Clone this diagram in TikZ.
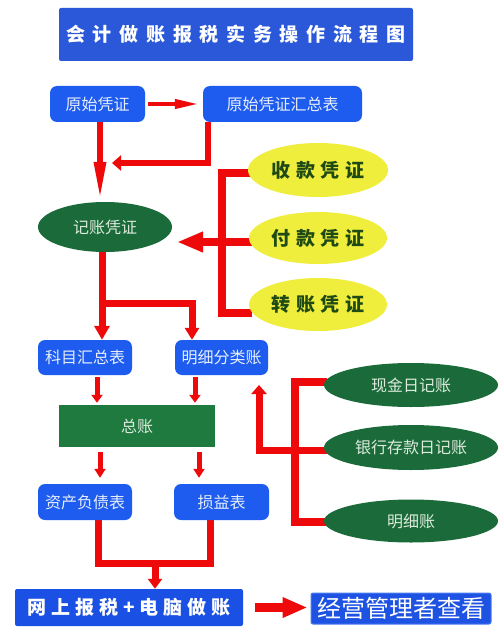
\documentclass[tikz,border=0pt]{standalone}
\usepackage{fontspec}
\newfontfamily\cjk{Noto Sans CJK SC}
\usetikzlibrary{shapes.geometric,arrows.meta}
\pgfdeclarelayer{back}\pgfdeclarelayer{bg}\pgfsetlayers{back,bg,main}
\definecolor{redc}{HTML}{EE0A0A}
\definecolor{boxblue}{HTML}{1E5CF0}
\definecolor{titleblue}{HTML}{2A58D8}
\definecolor{wsblue}{HTML}{1B50E4}
\definecolor{jyblue}{HTML}{1D52E2}
\definecolor{jyborder}{HTML}{4A7CF0}
\definecolor{dgreen}{HTML}{1B6B3A}
\definecolor{zgreen}{HTML}{1F7A40}
\definecolor{yel}{HTML}{F0EE3C}
\definecolor{ytext}{HTML}{1F4A14}
\definecolor{btext}{HTML}{E6EEFA}
\definecolor{gtext}{HTML}{DCEBDC}
\makeatletter
\newcommand\lsp[2]{\def\lsp@amt{#1}\lsp@loop#2\relax}
\def\lsp@loop#1{\ifx\relax#1\unskip\else#1\hspace{\lsp@amt}\expandafter\lsp@loop\fi}
\makeatother
\tikzset{
  bbox/.style={rectangle, rounded corners=7pt, fill=boxblue, text=btext, inner sep=0pt,
    font=\cjk\fontsize{16}{16}\selectfont},
  gell/.style={ellipse, fill=dgreen, text=gtext, inner sep=0pt,
    font=\cjk\fontsize{16}{16}\selectfont},
  yell/.style={ellipse, fill=yel, text=ytext, inner sep=0pt,
    font=\cjk\bfseries\fontsize{19}{19}\selectfont},
  redbar/.style={draw=redc, line join=miter, line cap=butt},
}
\begin{document}
\begin{tikzpicture}[x=1pt,y=-1pt]
\useasboundingbox (0,0) rectangle (503,639);
\begin{pgfonlayer}{back}
\fill[white] (0,0) rectangle (503,639);
\end{pgfonlayer}
% title
\node[rectangle, rounded corners=2pt, fill=titleblue, text=white, minimum width=354pt, minimum height=53pt,
  font=\cjk\bfseries\fontsize{19}{19}\selectfont] (title) at (236,34.5) {\lsp{7.7pt}{会计做账报税实务操作流程图}};
% boxes
\node[bbox, minimum width=95pt, minimum height=36pt] (ys) at (97.5,104) {原始凭证};
\node[bbox, minimum width=159pt, minimum height=36pt] (yh) at (282.5,104) {原始凭证汇总表};
\node[gell, minimum width=134pt, minimum height=50pt] (jz) at (105,227) {记账凭证};
\node[yell, minimum width=140pt, minimum height=54pt] (sk) at (318,170) {\lsp{5.5pt}{收款凭证}};
\node[yell, minimum width=138pt, minimum height=52pt] (fk) at (318,238) {\lsp{5.5pt}{付款凭证}};
\node[yell, minimum width=138pt, minimum height=53pt] (zz) at (318,304.5) {\lsp{5.5pt}{转账凭证}};
\node[bbox, minimum width=94pt, minimum height=35pt] (km) at (85,357.5) {科目汇总表};
\node[bbox, minimum width=93pt, minimum height=35pt] (mx) at (221.5,357.5) {明细分类账};
\node[rectangle, fill=zgreen, text=gtext, minimum width=156pt, minimum height=42pt, inner sep=0pt,
  font=\cjk\fontsize{16}{16}\selectfont] (zong) at (137,426) {总账};
\node[bbox, minimum width=94pt, minimum height=36pt] (zc) at (85,502) {资产负债表};
\node[bbox, minimum width=95pt, minimum height=36pt] (sy) at (221.5,502) {损益表};
\node[gell, minimum width=174pt, minimum height=44pt] (xj) at (411,385) {现金日记账};
\node[gell, minimum width=174pt, minimum height=45pt] (yc) at (411,447.5) {银行存款日记账};
\node[gell, minimum width=174pt, minimum height=43pt] (mxz) at (411,521) {明细账};
\node[rectangle, rounded corners=2pt, fill=wsblue, text=white, minimum width=228pt, minimum height=37pt, inner sep=0pt,
  font=\cjk\bfseries\fontsize{19}{19}\selectfont] (ws) at (129,607.5) {\lsp{5pt}{网上报税+电脑做账}};
\node[rectangle, rounded corners=2pt, fill=jyblue, draw=jyborder, line width=1pt, text=white, minimum width=180pt,
  minimum height=31pt, inner sep=0pt, font=\cjk\fontsize{24}{24}\selectfont] (jy) at (401,608.5) {经营管理者查看};
% coordinates
\coordinate (c3) at (112,163);
\coordinate (bt) at (222,173);
\coordinate (bb) at (222,313);
\coordinate (c4) at (177,242);
\coordinate (c5) at (102,303);
\coordinate (c8) at (155,563);
\coordinate (rt) at (295,382);
\coordinate (rm) at (295,450);
\coordinate (rb) at (295,522);
\coordinate (rtip) at (259,385);
\begin{pgfonlayer}{bg}
% ys -> yh
\draw[redbar, line width=4pt, shorten <=3pt, shorten >=4pt, -{Triangle[length=24pt,width=9pt]}] (ys) -- (yh);
% ys -> jz
\draw[redbar, line width=6pt, -{Triangle[length=40pt,width=11pt]}] ([xshift=2.5pt]ys.south) -- ([xshift=2.5pt]ys.south |- jz.north);
% yh -> jz
\draw[redbar, line width=6pt, -{Triangle[length=9pt,width=15pt]}] ([xshift=5pt]yh.south west) |- (c3);
% vouchers bracket
\draw[redbar, line width=8pt] ([xshift=3pt]sk.west |- bt) -- (bt) -- (bb) -- ([xshift=3pt]zz.west |- bb);
\draw[redbar, line width=8pt, -{Triangle[length=26pt,width=19pt]}] ([xshift=3pt]fk.west |- c4) -- (c4);
% jz -> km, mx
\draw[redbar, line width=7pt, -{Triangle[length=14pt,width=15pt]}] (jz.south -| c5) -- (c5 |- km.north);
\draw[redbar, line width=7pt, -{Triangle[length=12pt,width=14pt]}] (c5) -| ([xshift=-29.5pt]mx.north);
% km, mx -> zong
\draw[redbar, line width=5pt, shorten <=2pt, shorten >=2pt, -{Triangle[length=8pt,width=11pt]}] ([xshift=12pt]km.south) -- ([xshift=12pt]km.south |- zong.north);
\draw[redbar, line width=5pt, shorten <=2pt, shorten >=2pt, -{Triangle[length=8pt,width=11pt]}] ([xshift=-26.5pt]mx.south) -- ([xshift=-26.5pt]mx.south |- zong.north);
% zong -> zc, sy
\draw[redbar, line width=5pt, shorten <=5pt, shorten >=6pt, -{Triangle[length=9pt,width=11pt]}] ([xshift=15pt]zc.north |- zong.south) -- ([xshift=15pt]zc.north);
\draw[redbar, line width=5pt, shorten <=5pt, shorten >=6pt, -{Triangle[length=9pt,width=11pt]}] ([xshift=-22.5pt]sy.north |- zong.south) -- ([xshift=-22.5pt]sy.north);
% zc, sy -> ws
\draw[redbar, line width=7pt] ([xshift=13pt]zc.south) |- (c8) -| ([xshift=-11.5pt]sy.south);
\draw[redbar, line width=7pt, -{Triangle[length=10pt,width=14pt]}] (c8) -- (c8 |- ws.north);
% ws -> jy
\draw[redbar, line width=9pt, shorten <=12pt, shorten >=3pt, -{Triangle[length=25pt,width=19pt]}] (ws.east) -- (ws.east -| jy.west);
% journals bracket
\draw[redbar, line width=8pt] ([xshift=3pt]xj.west |- rt) -- (rt) -- (rb) -- ([xshift=3pt]mxz.west |- rb);
\draw[redbar, line width=7pt] ([xshift=3pt]yc.west |- rm) -- (rm);
\draw[redbar, line width=7pt, -{Triangle[length=9pt,width=15pt]}] (rm) -| (rtip);
\end{pgfonlayer}
\end{tikzpicture}
\end{document}
